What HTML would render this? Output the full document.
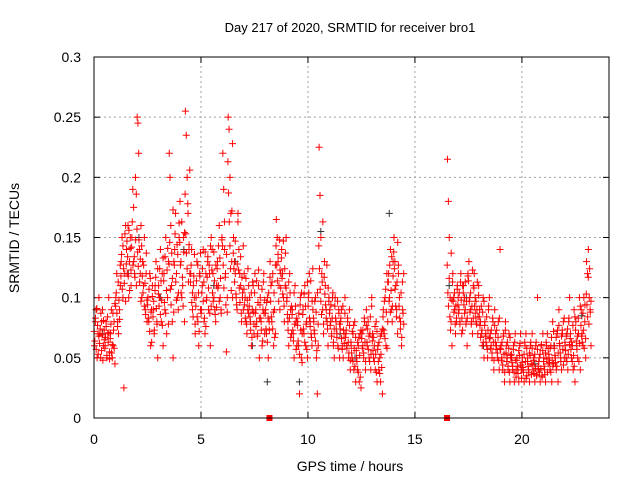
<!DOCTYPE html>
<html><head><meta charset="utf-8"><style>
html,body{margin:0;padding:0;background:#fff;}
svg{display:block;font-family:"Liberation Sans",sans-serif;}
</style></head><body>
<svg id="chart" width="640" height="480" viewBox="0 0 640 480">
<text x="350" y="32" text-anchor="middle" font-size="13">Day 217 of 2020, SRMTID for receiver bro1</text>
<text x="350" y="471" text-anchor="middle" font-size="14">GPS time / hours</text>
<text x="19" y="238" text-anchor="middle" font-size="14" transform="rotate(-90 19 238)">SRMTID / TECUs</text>
<g id="grid"></g>
<g id="ticks"></g>
<g id="gray"></g>
<g id="red"></g>
<rect x="94" y="57" width="515" height="361" fill="none" stroke="#000" stroke-width="1"/>
</svg>
<script>
const xTicks=[0,5,10,15,20];
const yTicks=[0,0.05,0.1,0.15,0.2,0.25,0.3];
const yTickLabels=["0","0.05","0.1","0.15","0.2","0.25","0.3"];
const binWidth=0.25;
const redBinStarts=[0,0.25,0.5,0.75,1,1.25,1.5,1.75,2,2.25,2.5,2.75,3,3.25,3.5,3.75,4,4.25,4.5,4.75,5,5.25,5.5,5.75,6,6.25,6.5,6.75,7,7.25,7.5,7.75,8,8.25,8.5,8.75,9,9.25,9.5,9.75,10,10.25,10.5,10.75,11,11.25,11.5,11.75,12,12.25,12.5,12.75,13,13.25,13.5,13.75,14,14.25,16.5,16.75,17,17.25,17.5,17.75,18,18.25,18.5,18.75,19,19.25,19.5,19.75,20,20.25,20.5,20.75,21,21.25,21.5,21.75,22,22.25,22.5,22.75,23];
const redBinValues=[
[.06,.08,.09,.05,.07,.1],[.07,.05,.08,.09,.06,.065],[.06,.08,.05,.07,.1,.055],[.07,.09,.05,.06,.08,.045],
[.1,.12,.08,.07,.09,.11],[.13,.15,.1,.025,.12,.16],[.14,.12,.16,.1,.13,.15,.11],[.15,.19,.13,.12,.2,.11],
[.25,.245,.22,.14,.12,.16,.1],[.13,.11,.15,.09,.12,.08],[.1,.08,.12,.06,.09,.11],[.09,.07,.11,.13,.08,.05],
[.11,.1,.14,.08,.12,.06],[.12,.09,.15,.07,.1,.13],[.22,.2,.16,.11,.08,.05,.13],[.14,.17,.12,.1,.09,.15],
[.18,.13,.1,.11,.15,.08],[.255,.235,.2,.17,.14,.12],[.12,.14,.09,.11,.1,.07],[.1,.13,.08,.06,.12,.09],
[.09,.11,.14,.08,.07,.12],[.1,.13,.09,.12,.06,.15],[.14,.12,.1,.09,.08,.11],[.13,.11,.16,.1,.09,.15],
[.22,.19,.14,.12,.055,.1],[.25,.24,.2,.17,.13,.1],[.15,.13,.12,.1,.09,.17],[.14,.12,.11,.08,.1,.09],
[.12,.1,.08,.07,.09,.11],[.1,.08,.06,.09,.11,.07],[.12,.09,.08,.07,.11,.05],[.1,.08,.06,.09,.12,.07],
[.09,.07,.1,.05,.08,.13],[.11,.08,.12,.06,.09,.07],[.165,.15,.13,.11,.09,.12],[.14,.12,.1,.08,.11,.15],
[.1,.08,.06,.12,.09,.07],[.09,.07,.05,.11,.08,.06],[.08,.06,.02,.1,.05,.07],[.09,.07,.11,.06,.08,.05],
[.1,.12,.08,.07,.06,.09],[.08,.07,.1,.05,.02,.06],[.225,.185,.15,.12,.09,.07],[.13,.11,.09,.08,.06,.1],
[.09,.08,.07,.1,.06,.05],[.1,.08,.07,.06,.09,.05],[.08,.09,.06,.05,.07,.1],[.07,.06,.08,.05,.09,.04],
[.06,.05,.07,.04,.08,.03],[.05,.04,.06,.03,.07,.025],[.07,.06,.05,.08,.04,.09],[.06,.08,.05,.07,.04,.1],
[.07,.05,.06,.04,.08,.03],[.06,.04,.05,.03,.07,.02],[.09,.07,.1,.06,.12,.08],[.12,.1,.14,.09,.08,.13],
[.15,.13,.11,.09,.07,.12],[.1,.08,.06,.09,.12],
[.215,.18,.15,.1,.08,.06],[.12,.1,.09,.07,.08,.11],[.1,.09,.08,.12,.07,.11],[.11,.1,.09,.08,.06,.12],
[.13,.1,.09,.08,.07,.11],[.12,.1,.08,.09,.07,.11],[.09,.08,.07,.06,.1,.05],[.08,.07,.06,.05,.09,.1],
[.07,.06,.05,.08,.04,.09],[.07,.06,.05,.08,.04,.14],[.06,.05,.04,.07,.03,.08],[.06,.05,.04,.07,.03,.05],
[.05,.04,.06,.03,.07,.04],[.05,.04,.03,.06,.07,.04],[.05,.04,.03,.06,.07,.035],[.05,.04,.03,.06,.045,.07],
[.04,.05,.03,.06,.035,.1],[.04,.05,.03,.06,.035,.07],[.05,.04,.03,.06,.07,.045],[.05,.04,.06,.03,.08,.045],
[.06,.05,.04,.07,.03,.09],[.06,.05,.04,.07,.08,.05],[.06,.05,.07,.04,.08,.1],[.07,.05,.06,.04,.09,.03],
[.08,.06,.05,.07,.1,.04],[.09,.07,.06,.1,.08,.05],[.13,.12,.14,.1,.09,.06]];
// second sampling pass within each bin (finer values)
const redBinValues2=[
[.072,.064,.083,.057,.091,.077,.053,.068],[.062,.074,.087,.056,.069,.048,.081,.073],[.058,.067,.076,.052,.084,.063,.071,.049],[.066,.078,.054,.061,.087,.073,.058,.095],
[.093,.104,.087,.076,.113,.098,.082,.127],[.118,.136,.107,.143,.124,.112,.153,.097],[.128,.147,.134,.118,.156,.106,.141,.123],[.142,.163,.127,.175,.134,.117,.148,.186],
[.157,.138,.126,.148,.113,.132,.097,.143],[.118,.104,.127,.093,.112,.086,.137,.098],[.094,.083,.107,.072,.116,.088,.063,.101],[.084,.097,.073,.106,.117,.091,.078,.124],
[.103,.093,.124,.086,.114,.098,.077,.133],[.114,.096,.134,.087,.106,.123,.141,.078],[.128,.146,.107,.094,.137,.116,.173,.088],[.127,.153,.113,.098,.144,.136,.104,.162],
[.146,.127,.104,.163,.117,.093,.138,.154],[.186,.153,.137,.124,.178,.113,.144,.206],[.113,.127,.096,.104,.084,.118,.136,.078],[.093,.114,.084,.127,.104,.072,.118,.137],
[.087,.104,.124,.097,.113,.083,.138,.076],[.098,.117,.134,.108,.127,.087,.143,.093],[.123,.104,.097,.138,.114,.086,.127,.092],[.124,.108,.143,.097,.133,.116,.087,.148],
[.143,.127,.108,.163,.117,.094,.136,.088],[.213,.187,.163,.143,.124,.106,.172,.228],[.137,.124,.113,.147,.103,.094,.128,.163],[.123,.108,.096,.134,.087,.117,.104,.143],
[.107,.094,.083,.116,.078,.098,.124,.087],[.093,.084,.073,.104,.067,.113,.088,.078],[.104,.087,.076,.114,.068,.096,.123,.083],[.094,.083,.073,.107,.064,.113,.087,.098],
[.087,.074,.096,.063,.083,.104,.073,.117],[.097,.084,.113,.074,.088,.104,.067,.127],[.143,.127,.114,.136,.097,.148,.123,.108],[.133,.116,.103,.147,.093,.124,.137,.108],
[.097,.086,.073,.113,.083,.104,.067,.093],[.086,.073,.064,.104,.078,.093,.057,.083],[.077,.064,.087,.053,.094,.073,.104,.046],[.086,.074,.103,.063,.093,.078,.057,.113],
[.093,.104,.083,.076,.114,.067,.097,.124],[.083,.073,.097,.064,.088,.056,.104,.078],[.143,.124,.107,.097,.086,.113,.163,.078],[.117,.103,.094,.083,.127,.074,.108,.097],
[.087,.077,.094,.068,.083,.104,.063,.074],[.093,.083,.074,.067,.097,.058,.087,.078],[.074,.083,.066,.057,.093,.073,.062,.087],[.067,.073,.058,.083,.063,.054,.077,.048],
[.063,.054,.072,.047,.077,.058,.043,.067],[.056,.047,.063,.038,.067,.052,.034,.073],[.066,.058,.073,.054,.083,.063,.047,.077],[.063,.074,.057,.068,.047,.084,.053,.093],
[.064,.056,.067,.047,.076,.053,.038,.072],[.057,.047,.063,.037,.068,.053,.042,.074],[.084,.073,.097,.066,.107,.088,.058,.113],[.113,.097,.127,.088,.106,.134,.093,.118],
[.138,.124,.107,.093,.084,.113,.146,.127],[.093,.083,.074,.104,.067,.113,.087,.078],
[.127,.104,.093,.116,.084,.073,.137,.098],[.113,.097,.088,.104,.078,.093,.083,.107],[.094,.087,.104,.078,.113,.098,.083,.073],[.104,.094,.087,.113,.078,.097,.083,.118],
[.114,.097,.088,.104,.078,.093,.123,.083],[.108,.093,.087,.097,.078,.113,.084,.102],[.084,.077,.067,.093,.073,.088,.063,.097],[.077,.068,.063,.084,.057,.073,.093,.066],
[.067,.058,.073,.054,.083,.063,.048,.077],[.063,.057,.073,.054,.067,.048,.083,.058],[.057,.048,.063,.044,.068,.053,.038,.073],[.054,.047,.063,.043,.058,.038,.067,.052],
[.053,.046,.043,.057,.038,.063,.048,.034],[.048,.043,.037,.056,.052,.062,.044,.033],[.046,.042,.038,.053,.063,.047,.033,.058],[.047,.043,.038,.054,.052,.063,.036,.058],
[.044,.048,.037,.053,.041,.063,.036,.057],[.043,.047,.038,.053,.041,.061,.034,.056],[.047,.043,.036,.054,.063,.049,.038,.058],[.053,.046,.058,.038,.067,.048,.043,.072],
[.058,.052,.046,.067,.043,.073,.054,.077],[.062,.054,.047,.068,.073,.057,.044,.083],[.063,.056,.068,.047,.074,.053,.083,.061],[.066,.057,.063,.047,.077,.052,.043,.084],
[.073,.064,.057,.068,.083,.047,.062,.093],[.077,.068,.063,.087,.073,.058,.094,.066],[.103,.094,.084,.117,.078,.124,.088,.097]];
const grayTimes=[0.1,0.4,1.6,2.1,3.1,4.2,5.6,6.6,7.4,8.1,9.6,10.6,11.5,12.2,13.8,16.6,17.4,18.2,19.5,20.6,21.5,22.8];
const grayValues=[0.09,0.07,0.12,0.15,0.1,0.14,0.11,0.13,0.06,0.03,0.03,0.155,0.07,0.05,0.17,0.11,0.1,0.06,0.05,0.045,0.06,0.085];
const gapMarkers=[8.2,16.5];

const X0=94,X1=609,Y0=418,Y1=57,XMAX=24.07,YMAX=0.3;
const xs=v=>X0+(v/XMAX)*(X1-X0);
const ys=v=>Y0-(v/YMAX)*(Y0-Y1);
const NS="http://www.w3.org/2000/svg";
function mk(tag,attrs,parent){const e=document.createElementNS(NS,tag);for(const k in attrs)e.setAttribute(k,attrs[k]);parent.appendChild(e);return e;}
const grid=document.getElementById('grid'),ticks=document.getElementById('ticks');
xTicks.forEach((t,i)=>{const x=xs(t);
 if(t>0){const g=mk('line',{x1:x,x2:x,y1:Y0,y2:Y1,stroke:'#a0a0a0','stroke-dasharray':'2,3'},grid);
 
 }
 mk('line',{x1:x,x2:x,y1:Y0,y2:Y0-6,stroke:'#000'},ticks);
 mk('line',{x1:x,x2:x,y1:Y1,y2:Y1+6,stroke:'#000'},ticks);
 const l=mk('text',{x:x,y:444,'text-anchor':'middle','font-size':'14'},ticks);l.textContent=String(t);
 
 
});
yTicks.forEach((t,i)=>{const y=ys(t);
 if(t>0&&t<YMAX){const g=mk('line',{x1:X0,x2:X1,y1:y,y2:y,stroke:'#a0a0a0','stroke-dasharray':'2,3'},grid);
 
 }
 mk('line',{x1:X0,x2:X0+6,y1:y,y2:y,stroke:'#000'},ticks);
 mk('line',{x1:X1,x2:X1-6,y1:y,y2:y,stroke:'#000'},ticks);
 const l=mk('text',{x:81,y:y+5,'text-anchor':'end','font-size':'14'},ticks);l.textContent=yTickLabels[i];
 
 
});
function plus(parent,t,v,color){const x=xs(t),y=ys(v);
 const p=mk('path',{d:`M${x-3.5},${y}H${x+3.5}M${x},${y-3.5}V${y+3.5}`,stroke:color,'stroke-width':'1',fill:'none'},parent);
 
 
}
const gray=document.getElementById('gray'),red=document.getElementById('red');
grayTimes.forEach((t,i)=>plus(gray,t,grayValues[i],'#333'));
redBinStarts.forEach((s,b)=>{
 const vals=redBinValues[b];const n=vals.length;
 vals.forEach((v,i)=>plus(red,s+(i+0.5)*binWidth/n,v,'#ff0000'));
 const vals2=redBinValues2[b];const m=vals2.length;
 vals2.forEach((v,i)=>plus(red,s+(i+0.25)*binWidth/m,v,'#ff0000'));
});
gapMarkers.forEach(t=>{const r=mk('rect',{x:xs(t)-3,y:Y0-3,width:6,height:6,fill:'#ff0000'},red);
 
 });
</script>
</body></html>
